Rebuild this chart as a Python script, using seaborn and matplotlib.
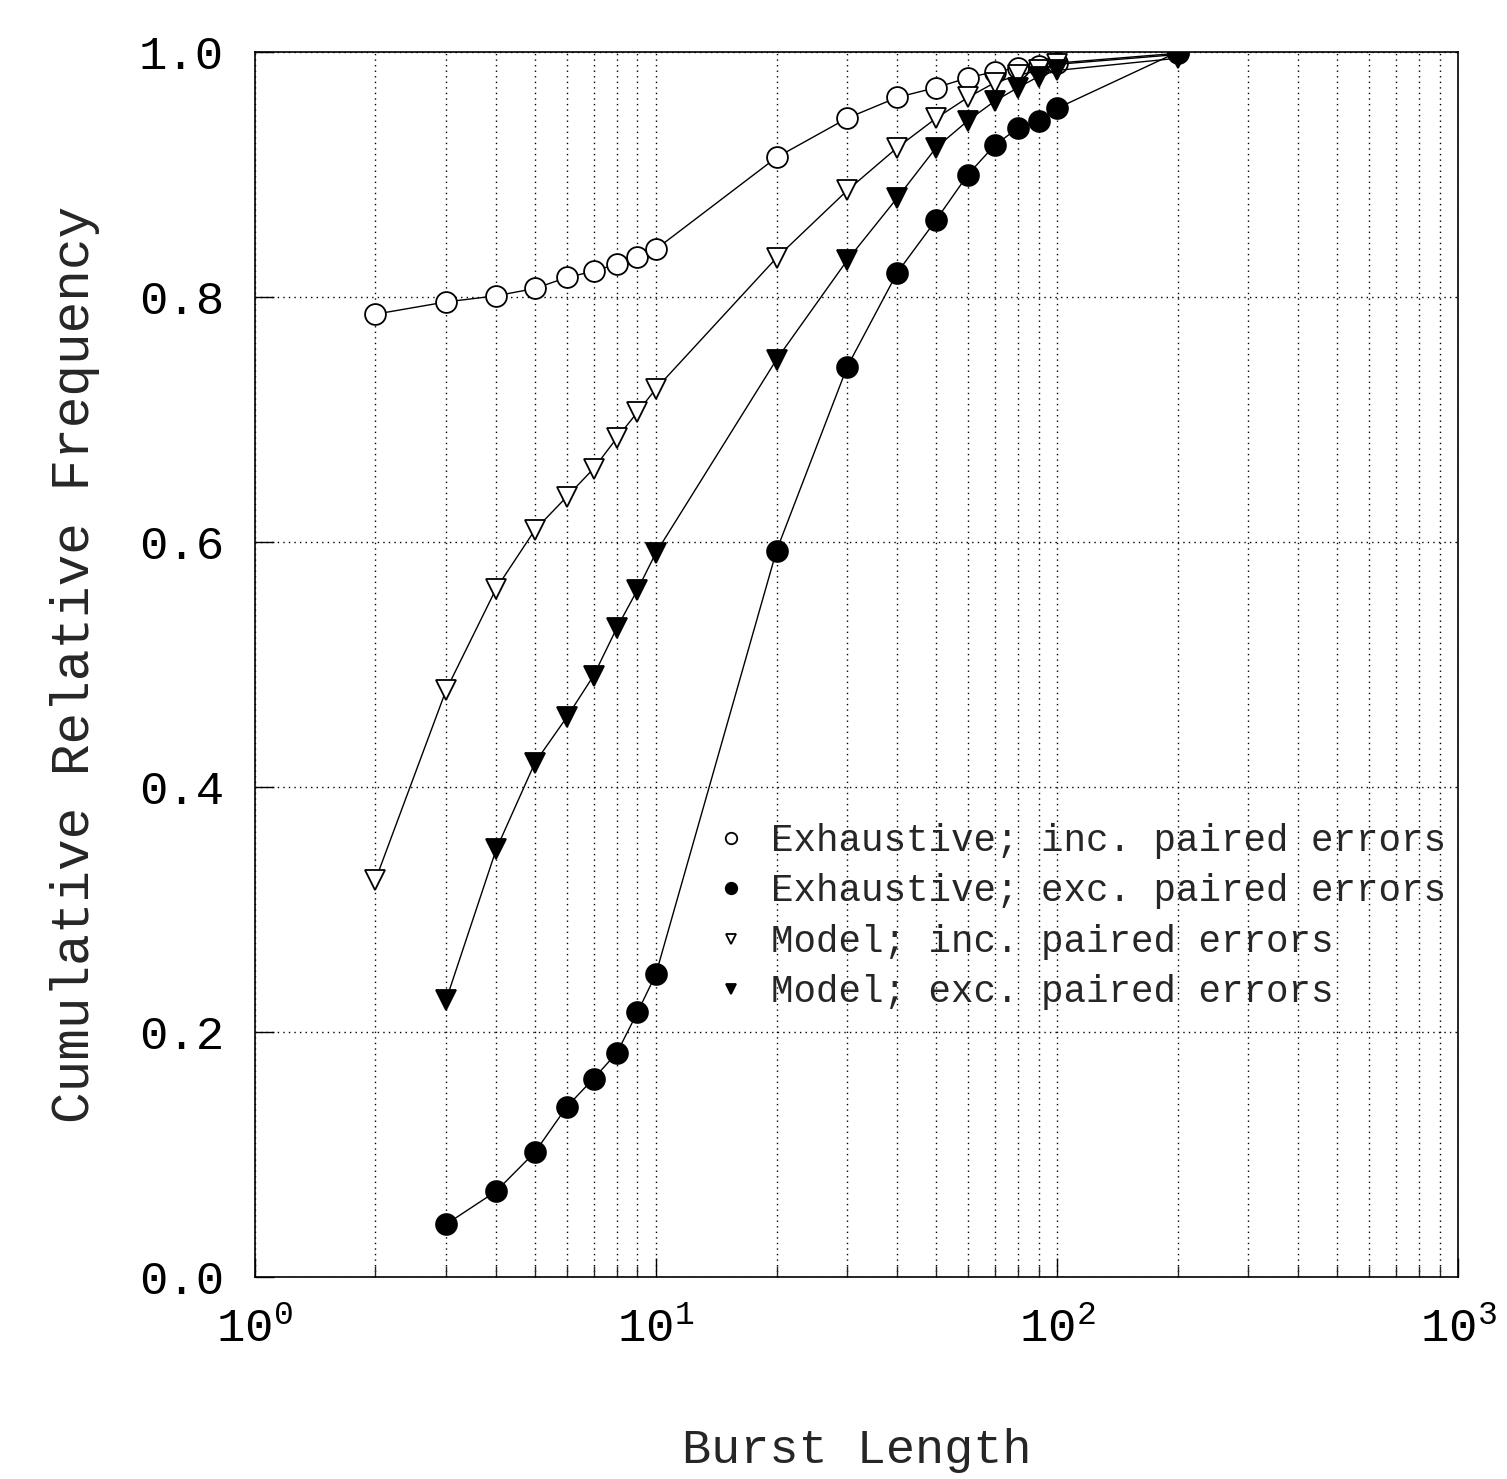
# -*- coding:utf-8 -*-

import numpy as np
import pandas as pd
import matplotlib
matplotlib.use("Agg")
import matplotlib.pyplot as plt
from matplotlib.ticker import LogLocator, FixedLocator, NullFormatter
import seaborn as sns

# burst lengths (x) shared by the four curves
burst_len = [2, 3, 4, 5, 6, 7, 8, 9, 10, 20, 30, 40, 50, 60, 70, 80, 90, 100, 200]

exh_inc = [0.786, 0.796, 0.801, 0.807, 0.816, 0.821, 0.827, 0.833, 0.839, 0.914,
           0.946, 0.963, 0.971, 0.979, 0.984, 0.987, 0.989, 0.991, 0.999]
model_inc = [0.324, 0.479, 0.562, 0.610, 0.637, 0.660, 0.685, 0.706, 0.725, 0.832,
             0.887, 0.922, 0.946, 0.963, 0.975, 0.981, 0.985, 0.990, 0.998]
# the "exc" curves start at length 3
model_exc = [0.226, 0.349, 0.420, 0.457, 0.491, 0.530, 0.561, 0.591, 0.749,
             0.830, 0.881, 0.922, 0.944, 0.960, 0.971, 0.980, 0.985, 0.995]
exh_exc = [0.043, 0.070, 0.102, 0.139, 0.162, 0.183, 0.216, 0.247, 0.593,
           0.743, 0.820, 0.863, 0.900, 0.924, 0.938, 0.944, 0.954, 1.000]

labels = ["Exhaustive; inc. paired errors",
          "Exhaustive; exc. paired errors",
          "Model; inc. paired errors",
          "Model; exc. paired errors"]


def show():
    sns.set_style("ticks")
    plt.rcParams['font.family'] = ['Liberation Mono', 'DejaVu Sans Mono']
    plt.rcParams['mathtext.fontset'] = 'custom'
    plt.rcParams['mathtext.rm'] = 'Liberation Mono'

    fig = plt.figure(figsize=(15.07, 14.79), dpi=100)
    ax = fig.add_axes([0.169, 0.1366, 0.7985, 0.8282])

    series = [
        (burst_len, exh_inc, "o", "white"),
        (burst_len[1:], exh_exc, "o", "black"),
        (burst_len, model_inc, "v", "white"),
        (burst_len[1:], model_exc, "v", "black"),
    ]
    for (xs, ys, mk, fc), lab in zip(series, labels):
        df = pd.DataFrame({"x": xs, "y": ys})
        sns.lineplot(data=df, x="x", y="y", ax=ax, color="black", lw=1.0,
                     marker=mk, markersize=15 if mk == "o" else 14,
                     markerfacecolor=fc, markeredgecolor="black",
                     markeredgewidth=1.3, label=lab)

    ax.set_xscale("log")
    ax.set_xlim(1, 1000)
    ax.set_ylim(0, 1.0)
    ax.xaxis.set_major_locator(FixedLocator([1, 10, 100, 1000]))
    ax.set_xticklabels([r"$\mathregular{10^{0}}$", r"$\mathregular{10^{1}}$",
                        r"$\mathregular{10^{2}}$", r"$\mathregular{10^{3}}$"])
    ax.xaxis.set_minor_locator(LogLocator(base=10, subs=np.arange(2, 10)))
    ax.xaxis.set_minor_formatter(NullFormatter())
    ax.set_yticks([0.0, 0.2, 0.4, 0.6, 0.8, 1.0])
    ax.set_yticklabels(["0.0", "0.2", "0.4", "0.6", "0.8", "1.0"])

    ax.tick_params(axis="both", which="major", direction="in", length=14,
                   width=1, labelsize=34, pad=22, colors="black")
    ax.tick_params(axis="x", which="minor", direction="in", length=8, width=1)

    ax.grid(True, which="both", axis="x", linestyle=(0, (1, 3)),
            color="black", lw=1.0)
    ax.grid(True, which="major", axis="y", linestyle=(0, (1, 3)),
            color="black", lw=1.0)

    for sp in ax.spines.values():
        sp.set_color("black")
        sp.set_linewidth(1.2)

    ax.set_xlabel("Burst Length", fontsize=35, labelpad=55)
    ax.set_ylabel("Cumulative Relative Frequency", fontsize=38, labelpad=28)

    ax.legend(loc="upper left", bbox_to_anchor=(0.368, 0.398), frameon=False,
              handlelength=0, handletextpad=1.05,
              labelspacing=0.38, markerscale=0.55,
              prop={"family": ["Liberation Mono", "DejaVu Sans Mono"], "size": 27})

    fig.savefig("out.png", dpi=100, facecolor="white")


if __name__ == '__main__':
    show()
